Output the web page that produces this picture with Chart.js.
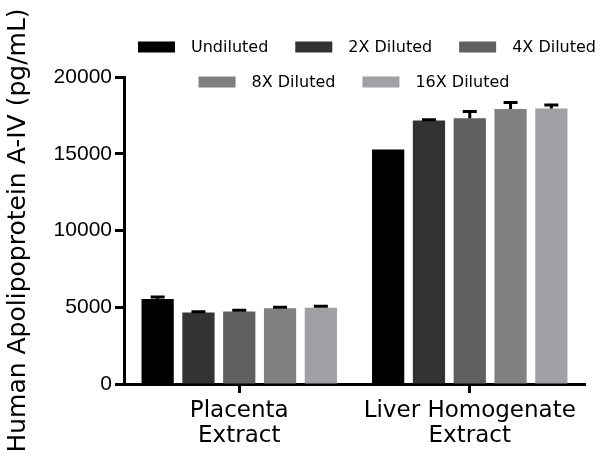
<!DOCTYPE html>
<html>
<head>
<meta charset="utf-8">
<script src="https://cdn.jsdelivr.net/npm/chart.js@4"></script>
<style>
  body { margin: 0; background: #fff; }
  #chart { display: block; }
</style>
</head>
<body>
<canvas id="chart" width="600" height="460"></canvas>
<script>
const FONT = '"DejaVu Sans", sans-serif';
const NUM_FONT = '"Liberation Sans", Arial, sans-serif';

// Data
const categories = [['Placenta', 'Extract'], ['Liver Homogenate', 'Extract']];
const seriesNames = ['Undiluted', '2X Diluted', '4X Diluted', '8X Diluted', '16X Diluted'];
const seriesColors = ['#000000', '#333333', '#5f5f5f', '#808080', '#a1a0a4'];
const undiluted = [5530, 15270];
const diluted2x = [4650, 17160];
const diluted4x = [4720, 17320];
const diluted8x = [4940, 17910];
const diluted16x = [4960, 17950];
const errUndiluted = [130, 0];
const err2x = [50, 60];
const err4x = [80, 430];
const err8x = [60, 430];
const err16x = [100, 230];
const yTicks = [0, 5000, 10000, 15000, 20000];

const seriesValues = [undiluted, diluted2x, diluted4x, diluted8x, diluted16x];
const seriesErrors = [errUndiluted, err2x, err4x, err8x, err16x];

/**
 * Draws the upward SD whiskers with a cap on each bar
 */
const errorBarPlugin = {
    id: 'errorBars',
    afterDatasetsDraw: (chart) => {
        const { ctx, scales: { y } } = chart;
        ctx.save();
        ctx.strokeStyle = '#000';
        ctx.lineWidth = 3;
        chart.data.datasets.forEach((ds, i) => {
            chart.getDatasetMeta(i).data.forEach((bar, j) => {
                const err = ds.errors[j];
                if (!err) return;
                const top = y.getPixelForValue(ds.data[j] + err);
                ctx.beginPath();
                ctx.moveTo(bar.x, bar.y);
                ctx.lineTo(bar.x, top);
                ctx.moveTo(bar.x - 7, top);
                ctx.lineTo(bar.x + 7, top);
                ctx.stroke();
            });
        });
        ctx.restore();
    }
};

/**
 * Two-row legend: three items then two, each row centred
 */
const legendRows = [[0, 1, 2], [3, 4]];
const legendPlugin = {
    id: 'rowLegend',
    afterDraw: (chart) => {
        const { ctx } = chart;
        const boxW = 37, boxH = 11, textGap = 16, itemGap = 27;
        const rowY = [47, 82];
        const rowCenter = [367, 354];
        ctx.save();
        ctx.font = '16px ' + FONT;
        ctx.textBaseline = 'middle';
        ctx.textAlign = 'left';
        legendRows.forEach((row, r) => {
            const widths = row.map(i => boxW + textGap + ctx.measureText(seriesNames[i]).width);
            const total = widths.reduce((a, b) => a + b, 0) + itemGap * (row.length - 1);
            let x = rowCenter[r] - total / 2;
            row.forEach((i, k) => {
                ctx.fillStyle = seriesColors[i];
                ctx.fillRect(x, rowY[r] - boxH / 2, boxW, boxH);
                ctx.fillStyle = '#000';
                ctx.fillText(seriesNames[i], x + boxW + textGap, rowY[r] + 1);
                x += widths[k] + itemGap;
            });
        });
        ctx.restore();
    }
};

new Chart(document.getElementById('chart'), {
    type: 'bar',
    data: {
        labels: categories,
        datasets: seriesNames.map((name, i) => ({
            label: name,
            data: seriesValues[i],
            errors: seriesErrors[i],
            backgroundColor: seriesColors[i],
            borderWidth: 0,
            barPercentage: 0.79,
            categoryPercentage: 0.885
        }))
    },
    options: {
        responsive: false,
        animation: false,
        events: [],
        layout: { padding: { top: 77, right: 15, left: 0, bottom: 0 } },
        plugins: { legend: false, tooltip: false },
        scales: {
            x: {
                afterFit: (axis) => { axis.height = 76; },
                grid: { offset: false, drawOnChartArea: false, drawTicks: true, tickLength: 9, tickWidth: 3, tickColor: '#000' },
                border: { display: true, width: 3, color: '#000' },
                ticks: { color: '#000', font: { family: FONT, size: 23, lineHeight: 1.1 }, padding: 5, maxRotation: 0 }
            },
            y: {
                min: 0,
                max: 20000,
                afterFit: (axis) => { axis.width = 124; },
                afterBuildTicks: (axis) => { axis.ticks = yTicks.map(v => ({ value: v })); },
                grid: { drawOnChartArea: false, drawTicks: true, tickLength: 9, tickWidth: 3, tickColor: '#000' },
                border: { display: true, width: 3, color: '#000' },
                ticks: {
                    color: '#000',
                    font: { family: NUM_FONT, size: 21 },
                    padding: 3,
                    callback: (v) => String(v)
                },
                title: {
                    display: true,
                    text: 'Human Apolipoprotein A-IV (pg/mL)',
                    color: '#000',
                    font: { family: FONT, size: 25 },
                    padding: { top: 3, bottom: 0 }
                }
            }
        }
    },
    plugins: [errorBarPlugin, legendPlugin]
});
</script>
</body>
</html>
